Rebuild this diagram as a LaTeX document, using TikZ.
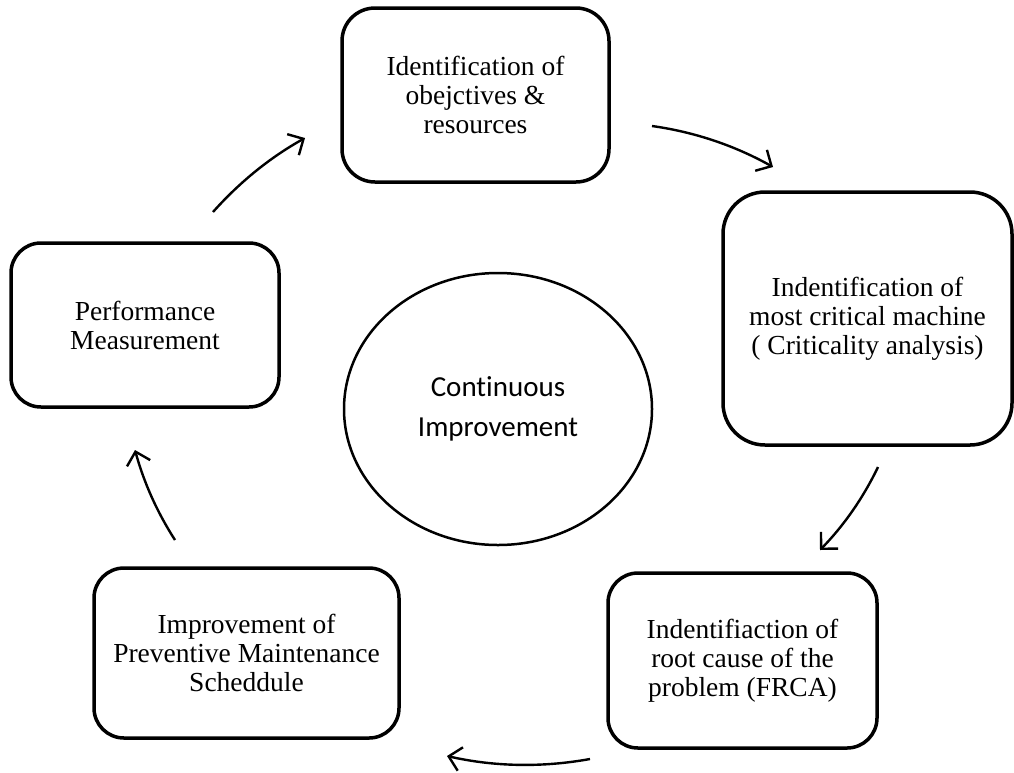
\documentclass[tikz,border=0pt]{standalone}
\usepackage{fontspec}
\setmainfont{Liberation Serif}
\newfontfamily\calib[Ligatures=NoCommon]{Carlito}
\usetikzlibrary{arrows.meta,shapes.geometric}
\tikzset{
  stagebox/.style={draw, line width=3.5pt, align=center, inner sep=0pt,
    font=\fontsize{27.5}{29}\selectfont},
  cyclearrow/.style={line width=2.4pt, -{Straight Barb[length=12pt,width=24pt,line width=2.4pt]}},
}
\begin{document}
\begin{tikzpicture}[x=1pt,y=-1pt]
\useasboundingbox (0,0) rectangle (1014,772);
\node[stagebox, rounded corners=33pt, minimum width=267pt, minimum height=174pt] (top) at (475.5,95) {Identification of\\obejctives \&\\resources};
\node[stagebox, rounded corners=42pt, minimum width=289pt, minimum height=253pt] (right) at (867.5,318.5) {Indentification of\\most critical machine\\( Criticality analysis)};
\node[stagebox, rounded corners=30pt, minimum width=269pt, minimum height=175pt] (bright) at (742.5,660.5) {Indentifiaction of\\root cause of the\\problem (FRCA)};
\node[stagebox, rounded corners=30pt, minimum width=305pt, minimum height=170pt] (bleft) at (246.5,653) {Improvement of\\Preventive Maintenance\\Scheddule};
\node[stagebox, rounded corners=30pt, minimum width=268pt, minimum height=164pt] (left) at (145,325) {Performance\\Measurement};
\node[ellipse, draw, line width=2.5pt, minimum width=308pt, minimum height=272pt, align=center, inner sep=0pt,
  font=\calib\fontsize{29}{40}\selectfont] (ci) at (498,409) {Continuous\\Improvement};

\coordinate (a1s) at (652,126); \coordinate (a1e) at (773,167);
\coordinate (a2s) at (878,467); \coordinate (a2e) at (820,550);
\coordinate (a3s) at (590,759); \coordinate (a3e) at (447,756);
\coordinate (a4s) at (175,540); \coordinate (a4e) at (135,450);
\coordinate (a5s) at (213,212); \coordinate (a5e) at (305,138);

\draw[cyclearrow] (a1s) .. controls (694.7,132) and (735,145.7) .. (a1e);
\draw[cyclearrow] (a2s) .. controls (863.3,497.7) and (844,525.3) .. (a2e);
\draw[cyclearrow] (a3s) .. controls (542,767.7) and (494.3,766.7) .. (a3e);
\draw[cyclearrow] (a4s) .. controls (157,512) and (143.7,482) .. (a4e);
\draw[cyclearrow] (a5s) .. controls (239.7,182) and (270.3,157.3) .. (a5e);
\end{tikzpicture}
\end{document}
